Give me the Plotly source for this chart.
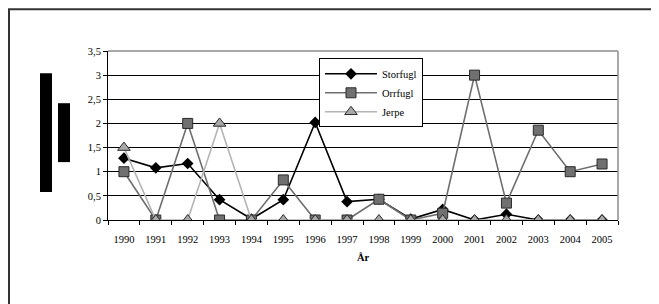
import plotly.graph_objects as go

years = ["1990", "1991", "1992", "1993", "1994", "1995", "1996", "1997",
         "1998", "1999", "2000", "2001", "2002", "2003", "2004", "2005"]
storfugl = [1.28, 1.08, 1.17, 0.42, 0.02, 0.42, 2.02, 0.38,
            0.43, 0.02, 0.22, 0.0, 0.12, 0.0, 0.0, 0.0]
orrfugl = [1.0, 0.0, 2.0, 0.0, 0.0, 0.83, 0.0, 0.0,
           0.43, 0.0, 0.14, 3.0, 0.35, 1.86, 1.0, 1.16]
jerpe = [1.5, 0.0, 0.0, 2.0, 0.0, 0.0, 0.0, 0.0,
         0.0, 0.0, 0.0, 0.0, 0.0, 0.0, 0.0, 0.0]
y_ticks = [0, 0.5, 1, 1.5, 2, 2.5, 3, 3.5]
y_tick_labels = ["0", "0,5", "1", "1,5", "2", "2,5", "3", "3,5"]

# page body has an 8px margin, so work in coordinates shifted by 8px
OFF = 8
W, H = 659 - OFF, 304 - OFF
L, R, T, B = 108 - OFF, 618 - OFF, 50.7 - OFF, 220 - OFF

def px(x):
    return (x - OFF - L) / (R - L)

def py(y):
    return (B - (y - OFF)) / (B - T)

fig = go.Figure()
fig.add_trace(go.Scatter(
    x=years, y=storfugl, name="Storfugl", mode="lines+markers",
    line=dict(color="black", width=1.6),
    marker=dict(symbol="diamond", size=9, color="black"),
    legendgroup="a"))
fig.add_trace(go.Scatter(
    x=years, y=orrfugl, name="Orrfugl", mode="lines+markers",
    line=dict(color="#6e6e6e", width=1.6),
    marker=dict(symbol="square", size=10, color="#707070",
                line=dict(color="#2a2a2a", width=1)),
    legendgroup="b"))
fig.add_trace(go.Scatter(
    x=years, y=jerpe, name="Jerpe", mode="lines+markers",
    line=dict(color="#b4b4b4", width=1.6),
    marker=dict(symbol="triangle-up", size=11, color="#a8a8a8",
                line=dict(color="#2a2a2a", width=1)),
    legendgroup="c"))

fam = "Liberation Serif, Times New Roman, serif"
font = dict(family=fam, size=10.5, color="black")

fig.update_layout(
    width=W, height=H,
    margin=dict(l=L, r=W - R, t=T, b=H - B, pad=0),
    paper_bgcolor="white", plot_bgcolor="white",
    font=font,
    showlegend=True,
    legend=dict(x=px(319), y=py(58), xanchor="left", yanchor="top",
                bordercolor="black", borderwidth=1, bgcolor="white",
                font=dict(family=fam, size=10.5, color="black"),
                itemwidth=52, tracegroupgap=0),
    xaxis=dict(type="category", range=[-0.5, 15.5], showgrid=False,
               showline=True, linecolor="black", linewidth=1,
               ticks="outside", ticklen=4, tickcolor="black",
               tickson="boundaries", tickfont=font, ticklabelstandoff=9,
               title=dict(text="<b>År</b>", font=dict(family=fam, size=10.5),
                          standoff=10),
               zeroline=False),
    yaxis=dict(range=[0, 3.5], tickvals=y_ticks, ticktext=y_tick_labels,
               showgrid=True, gridcolor="black", gridwidth=1,
               showline=True, linecolor="black", linewidth=1,
               ticks="outside", ticklen=4, tickcolor="black",
               tickfont=font, zeroline=False),
    shapes=[
        # grey plot frame top & right
        dict(type="line", xref="paper", yref="paper", x0=0, x1=1, y0=1, y1=1,
             line=dict(color="#8c8c8c", width=1.5)),
        dict(type="line", xref="paper", yref="paper", x0=1, x1=1, y0=0, y1=1,
             line=dict(color="#8c8c8c", width=1.5)),
        # outer chart frame
        dict(type="line", xref="paper", yref="paper", x0=px(8), x1=px(700),
             y0=py(9), y1=py(9), line=dict(color="#333333", width=2)),
        dict(type="line", xref="paper", yref="paper", x0=px(9), x1=px(9),
             y0=py(9), y1=py(320), line=dict(color="#333333", width=2)),
        # black blocks (obscured axis title)
        dict(type="rect", xref="paper", yref="paper", x0=px(40), x1=px(52),
             y0=py(192), y1=py(73), fillcolor="black", line=dict(width=0)),
        dict(type="rect", xref="paper", yref="paper", x0=px(58), x1=px(70),
             y0=py(162), y1=py(103), fillcolor="black", line=dict(width=0)),
    ],
)

fig.write_html("out.html")
